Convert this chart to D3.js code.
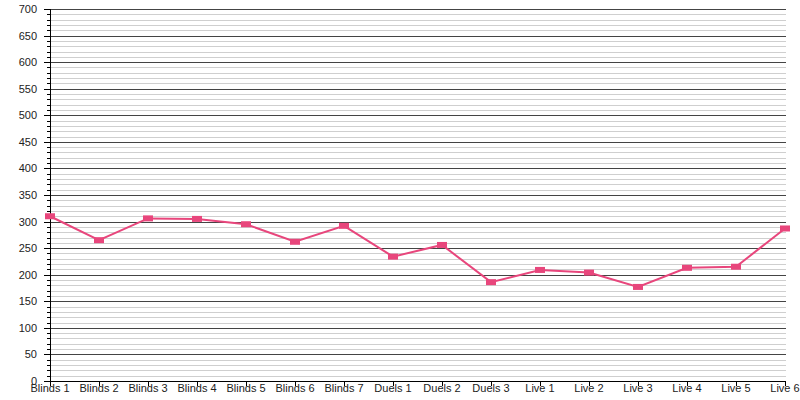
<!DOCTYPE html>
<html><head><meta charset="utf-8">
<script src="https://cdn.jsdelivr.net/npm/d3@7"></script>
<style>body{margin:0;background:#fff}svg{display:block}text{font-family:"Liberation Sans",Arial,sans-serif}</style>
</head><body><svg id="c" width="800" height="400"></svg>
<script>
const categories = ["Blinds 1","Blinds 2","Blinds 3","Blinds 4","Blinds 5","Blinds 6","Blinds 7","Duels 1","Duels 2","Duels 3","Live 1","Live 2","Live 3","Live 4","Live 5","Live 6"];
const values = [310,265,306,305,295,262,292,234,256,186,209,204,177,213,215,287];
const yTicks = [0,50,100,150,200,250,300,350,400,450,500,550,600,650,700];
const color = "#e8467c";

(function(){
const svg = d3.select("#c");
const mL = 50, mR = 785, mT = 9, mB = 381;
const x = d3.scalePoint().domain(categories).range([mL, mR]);
const y = d3.scaleLinear().domain([0,700]).range([mB, mT]);

const minor = d3.range(0, 701, 10).filter(v => v % 50 !== 0);
svg.append("g").selectAll("line").data(minor).join("line")
  .attr("x1", mL).attr("x2", mR + 1)
  .attr("y1", d => Math.round(y(d)) + 0.5).attr("y2", d => Math.round(y(d)) + 0.5)
  .attr("stroke", "#cfcfcf").attr("stroke-width", 1);
svg.append("g").selectAll("line").data(yTicks.filter(v => v > 0)).join("line")
  .attr("x1", mL).attr("x2", mR + 1)
  .attr("y1", d => Math.round(y(d)) + 0.5).attr("y2", d => Math.round(y(d)) + 0.5)
  .attr("stroke", "#444").attr("stroke-width", 1);

const ya = svg.append("g");
ya.append("line").attr("x1", mL + 0.5).attr("x2", mL + 0.5).attr("y1", mT).attr("y2", mB).attr("stroke", "#000");
ya.selectAll("line.mn").data(minor).join("line").attr("class","mn")
  .attr("x1", mL - 3).attr("x2", mL)
  .attr("y1", d => Math.round(y(d)) + 0.5).attr("y2", d => Math.round(y(d)) + 0.5).attr("stroke", "#000");
ya.selectAll("line.mj").data(yTicks).join("line").attr("class","mj")
  .attr("x1", mL - 6).attr("x2", mL)
  .attr("y1", d => Math.round(y(d)) + 0.5).attr("y2", d => Math.round(y(d)) + 0.5).attr("stroke", "#000");
ya.selectAll("text").data(yTicks).join("text")
  .attr("x", mL - 13).attr("y", d => y(d) + 4)
  .attr("text-anchor", "end").attr("font-size", 11).attr("fill", "#222").text(d => d);

const xa = svg.append("g");
xa.append("line").attr("x1", mL).attr("x2", mR + 1).attr("y1", mB + 0.5).attr("y2", mB + 0.5).attr("stroke", "#000");
xa.selectAll("line.t").data(categories).join("line").attr("class","t")
  .attr("x1", d => Math.round(x(d)) + 0.5).attr("x2", d => Math.round(x(d)) + 0.5)
  .attr("y1", mB).attr("y2", mB + 5).attr("stroke", "#000");
xa.selectAll("text").data(categories).join("text")
  .attr("x", d => x(d)).attr("y", mB + 11)
  .attr("text-anchor", "middle").attr("font-size", 11).attr("fill", "#222").text(d => d);

const line = d3.line().x((d,i) => x(categories[i])).y(d => y(d));
svg.append("path").datum(values).attr("d", line).attr("fill", "none")
  .attr("stroke", color).attr("stroke-width", 2);
svg.append("g").selectAll("rect").data(values).join("rect")
  .attr("x", (d,i) => x(categories[i]) - 5).attr("y", d => y(d) - 3)
  .attr("width", 10).attr("height", 6).attr("fill", color);
})();
</script></body></html>
